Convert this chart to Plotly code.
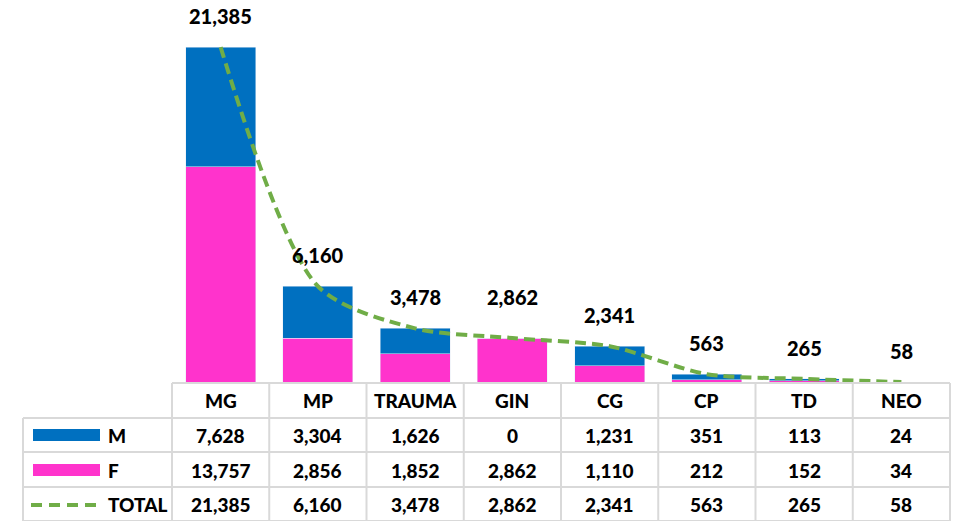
import plotly.graph_objects as go

# data
categories = ["MG", "MP", "TRAUMA", "GIN", "CG", "CP", "TD", "NEO"]
m_values = [7628, 3304, 1626, 0, 1231, 351, 113, 24]
f_values = [13757, 2856, 1852, 2862, 1110, 212, 152, 34]
total_values = [21385, 6160, 3478, 2862, 2341, 563, 265, 58]

BLUE = "#0070C0"
PINK = "#FF33CC"
GREEN = "#70AD47"
GRID = "#D9D9D9"
FONT = "Lato"

W, H = 961, 521


def py(y):
    # pixel row -> paper y
    return 1 - y / H


def px(x):
    return x / W


fig = go.Figure()
fig.add_trace(go.Bar(x=categories, y=f_values, name="F", marker_color=PINK))
fig.add_trace(go.Bar(x=categories, y=m_values, name="M", marker_color=BLUE))
fig.add_trace(go.Scatter(x=categories, y=total_values, name="TOTAL", mode="lines",
                         line=dict(color=GREEN, width=4, dash="11px,6px",
                                   shape="spline", smoothing=0.8)))

# total labels above the points (GIN label sits a bit higher in the original)
annotations = []
for c, t in zip(categories, total_values):
    shift = 41 if c == "GIN" else 31
    annotations.append(dict(x=c, y=t, xref="x", yref="y", text=f"{t:,}",
                            showarrow=False, yshift=shift,
                            font=dict(size=20, color="black", family=FONT, weight=900)))

# data table
cell_font = dict(size=19, color="black", family=FONT, weight=900)
row_y = [400, 435, 470, 504]
for c in categories:
    annotations.append(dict(x=c, y=py(row_y[0]), xref="x", yref="paper", text=c,
                            showarrow=False, yanchor="middle", font=cell_font))
for vals, ry in zip([m_values, f_values, total_values], row_y[1:]):
    for c, v in zip(categories, vals):
        annotations.append(dict(x=c, y=py(ry), xref="x", yref="paper", text=f"{v:,}",
                                showarrow=False, yanchor="middle", font=cell_font))
for name, ry in zip(["M", "F", "TOTAL"], row_y[1:]):
    annotations.append(dict(x=px(106), y=py(ry), xref="paper", yref="paper", text=name,
                            showarrow=False, xanchor="left", yanchor="middle",
                            font=cell_font))

shapes = []
col_x = [172 + i * 97.25 for i in range(9)]
line_rows = [383, 418, 452, 487, 521]
# horizontal lines
shapes.append(dict(type="line", xref="paper", yref="paper", x0=px(172), x1=px(950),
                   y0=py(383), y1=py(383), line=dict(color=GRID, width=2)))
for ry in line_rows[1:]:
    shapes.append(dict(type="line", xref="paper", yref="paper", x0=px(23), x1=px(950),
                       y0=py(ry), y1=py(ry), line=dict(color=GRID, width=2)))
# vertical lines
for cx in col_x:
    shapes.append(dict(type="line", xref="paper", yref="paper", x0=px(cx), x1=px(cx),
                       y0=py(383), y1=0, line=dict(color=GRID, width=2)))
shapes.append(dict(type="line", xref="paper", yref="paper", x0=px(23), x1=px(23),
                   y0=py(418), y1=0, line=dict(color=GRID, width=2)))
# legend keys
shapes.append(dict(type="rect", xref="paper", yref="paper", x0=px(33), x1=px(100),
                   y0=py(441), y1=py(429), fillcolor=BLUE, line=dict(width=0)))
shapes.append(dict(type="rect", xref="paper", yref="paper", x0=px(33), x1=px(100),
                   y0=py(476), y1=py(464), fillcolor=PINK, line=dict(width=0)))
shapes.append(dict(type="line", xref="paper", yref="paper", x0=px(31), x1=px(102),
                   y0=py(505), y1=py(505), line=dict(color=GREEN, width=4, dash="11px,7px")))

fig.update_layout(
    width=W, height=H,
    margin=dict(l=0, r=0, t=0, b=0),
    barmode="stack", bargap=0.28,
    showlegend=False,
    plot_bgcolor="white", paper_bgcolor="white",
    xaxis=dict(domain=[px(172), px(950)], range=[-0.5, 7.5], showticklabels=False,
               showline=False, showgrid=False, ticks=""),
    yaxis=dict(domain=[py(383), 1], range=[0, 24380], visible=False),
    annotations=annotations,
    shapes=shapes,
)

fig.write_html("out.html", config={"displayModeBar": False},
               post_script="document.body.style.margin='0';")
